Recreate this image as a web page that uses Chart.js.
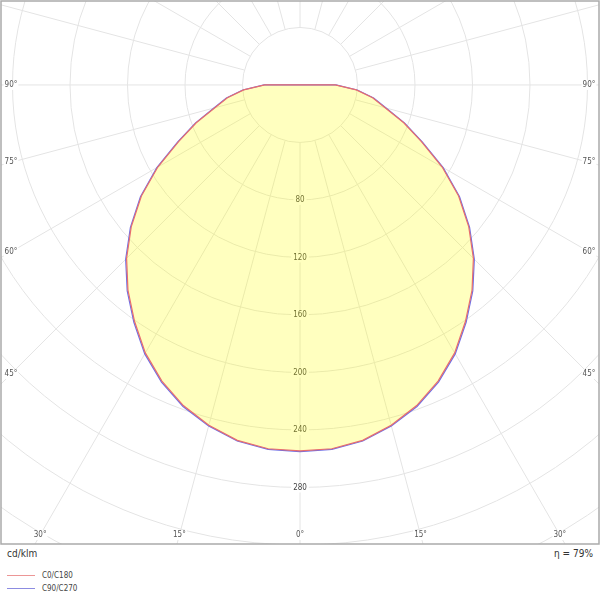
<!DOCTYPE html>
<html lang="en">
<head>
  <meta charset="UTF-8" />
  <title>Light distribution curve</title>
  <script src="https://cdn.jsdelivr.net/npm/chart.js@4.4.0/dist/chart.umd.min.js"></script>
  <style>
    body { margin: 0; background: #fff; font-family: "DejaVu Sans Condensed", "Liberation Sans", sans-serif; }
    .wrap { position: relative; width: 600px; height: 599px; }
    #ldc { position: absolute; left: 0; top: 0; }
    .unit { position: absolute; left: 7px; top: 548px; font-size: 10px; color: #333; }
    .eta { position: absolute; right: 7px; top: 548px; font-size: 10px; color: #333; }
    .legend { position: absolute; left: 7px; top: 569px; font-size: 8px; color: #444; }
    .legend div { height: 13px; line-height: 13px; }
    .legend span.line { display: inline-block; width: 28px; height: 1px; vertical-align: middle; margin-right: 7px; }
  </style>
</head>
<body>
  <div class="wrap">
    <canvas id="ldc" width="600" height="545"></canvas>
    <div class="unit">cd/klm</div>
    <div class="eta">η = 79%</div>
    <div class="legend">
      <div><span class="line" style="background: rgb(236,150,150)"></span>C0/C180</div>
      <div><span class="line" style="background: rgb(140,140,225)"></span>C90/C270</div>
    </div>
  </div>

  <script>
    // gamma angles (deg) and intensities in cd/klm, symmetric on both sides
    const gammaAngles = [0, 5, 10, 15, 20, 25, 30, 35, 40, 45, 50, 55, 60, 65, 70, 75, 80, 85, 90];
    const c0c180 = [254.5, 254, 251, 245, 237.3, 227.3, 215.2, 200.7, 186.2, 170.6, 153.2, 134.7, 114.2, 93.2, 76.8, 61.3, 51.3, 39.3, 24.5];
    const c90c270 = [255, 254.5, 251.5, 245.5, 238, 228, 216, 201.5, 187, 171.5, 154, 135.5, 115, 94, 77.5, 62, 52, 40, 25];

    const ringValues = [40, 80, 120, 160, 200, 240, 280, 320, 360, 400];
    const ringLabels = ['80', '120', '160', '200', '240', '280'];
    const angleLabels = [0, 15, 30, 45, 60, 75, 90];

    const GRID = 'rgb(228,228,228)';
    const LABEL_FONT = '8px "DejaVu Sans Condensed", "Liberation Sans", sans-serif';

    // polar -> x/y in cd/klm units, light going downwards
    function toXY(values) {
      const pts = [{ x: 0, y: 0 }];
      for (let i = gammaAngles.length - 1; i >= 0; i--) {
        const a = -gammaAngles[i] * Math.PI / 180;
        pts.push({ x: values[i] * Math.sin(a), y: -values[i] * Math.cos(a) });
      }
      for (let i = 1; i < gammaAngles.length; i++) {
        const a = gammaAngles[i] * Math.PI / 180;
        pts.push({ x: values[i] * Math.sin(a), y: -values[i] * Math.cos(a) });
      }
      pts.push({ x: 0, y: 0 });
      return pts;
    }

    // grid of rings + rays, drawn before the datasets
    const polarGrid = {
      id: 'polarGrid',
      beforeDraw(chart) {
        const { ctx, chartArea: ca, scales } = chart;
        const cx = scales.x.getPixelForValue(0);
        const cy = scales.y.getPixelForValue(0);
        const unit = scales.x.getPixelForValue(1) - cx;
        ctx.save();
        ctx.beginPath();
        ctx.rect(ca.left, ca.top, ca.right - ca.left, ca.bottom - ca.top);
        ctx.clip();
        ctx.strokeStyle = GRID;
        ctx.lineWidth = 1;
        ringValues.forEach(v => {
          ctx.beginPath();
          ctx.arc(cx, cy, v * unit, 0, Math.PI * 2);
          ctx.stroke();
        });
        const r0 = ringValues[0] * unit;
        for (let a = 0; a < 360; a += 15) {
          const rad = a * Math.PI / 180;
          const dx = Math.sin(rad), dy = Math.cos(rad);
          ctx.beginPath();
          ctx.moveTo(cx + dx * r0, cy + dy * r0);
          ctx.lineTo(cx + dx * 1000, cy + dy * 1000);
          ctx.stroke();
        }

        ctx.font = LABEL_FONT;
        ctx.textAlign = 'center';
        ctx.textBaseline = 'middle';
        // intensity labels along the 0 deg axis
        ringLabels.forEach(t => {
          const y = scales.y.getPixelForValue(-Number(t));
          const w = ctx.measureText(t).width;
          ctx.fillStyle = '#fff';
          ctx.fillRect(cx - w / 2 - 2, y - 5, w + 4, 10);
          ctx.fillStyle = '#444';
          ctx.fillText(t, cx, y);
        });
        // angle labels where the rays meet the frame
        const right = ca.right - 10, bottom = ca.bottom - 9;
        angleLabels.forEach(a => {
          const rad = a * Math.PI / 180;
          const s = Math.sin(rad), c = Math.cos(rad);
          [-1, 1].forEach(side => {
            if (a === 0 && side < 0) return;
            const tb = c > 1e-6 ? (bottom - cy) / c : Infinity;
            const ts = s > 1e-6 ? (right - cx) / s : Infinity;
            const t = Math.min(tb, ts);
            const x = cx + side * s * t;
            const y = cy + c * t;
            const txt = a + '°';
            const w = ctx.measureText(txt).width;
            ctx.fillStyle = '#fff';
            ctx.fillRect(x - w / 2 - 1, y - 5, w + 2, 10);
            ctx.fillStyle = '#555';
            ctx.fillText(txt, x, y);
          });
        });
        ctx.restore();
      },
      afterDraw(chart) {
        const { ctx, chartArea: ca } = chart;
        ctx.save();
        ctx.strokeStyle = 'rgb(170,170,170)';
        ctx.lineWidth = 1.5;
        ctx.strokeRect(ca.left, ca.top, ca.right - ca.left, ca.bottom - ca.top);
        ctx.restore();
      }
    };

    new Chart(document.getElementById('ldc'), {
      type: 'scatter',
      data: {
        datasets: [
          {
            label: 'C0/C180',
            data: toXY(c0c180),
            showLine: true,
            borderColor: 'rgb(232,110,110)',
            borderWidth: 1.2,
            pointRadius: 0,
            fill: false
          },
          {
            label: 'C90/C270',
            data: toXY(c90c270),
            showLine: true,
            borderColor: 'rgb(110,110,230)',
            borderWidth: 1.2,
            backgroundColor: 'rgba(255,255,0,0.25)',
            pointRadius: 0,
            fill: 'shape'
          }
        ]
      },
      options: {
        responsive: false,
        animation: false,
        layout: { padding: { left: 1, right: 1, top: 1, bottom: 1 } },
        scales: {
          x: { type: 'linear', display: false, min: -208, max: 208 },
          y: { type: 'linear', display: false, min: -319.3, max: 58.4 }
        },
        plugins: {
          legend: { display: false },
          tooltip: { enabled: false },
          filler: { drawTime: 'beforeDatasetsDraw' }
        }
      },
      plugins: [polarGrid]
    });
  </script>
</body>
</html>
